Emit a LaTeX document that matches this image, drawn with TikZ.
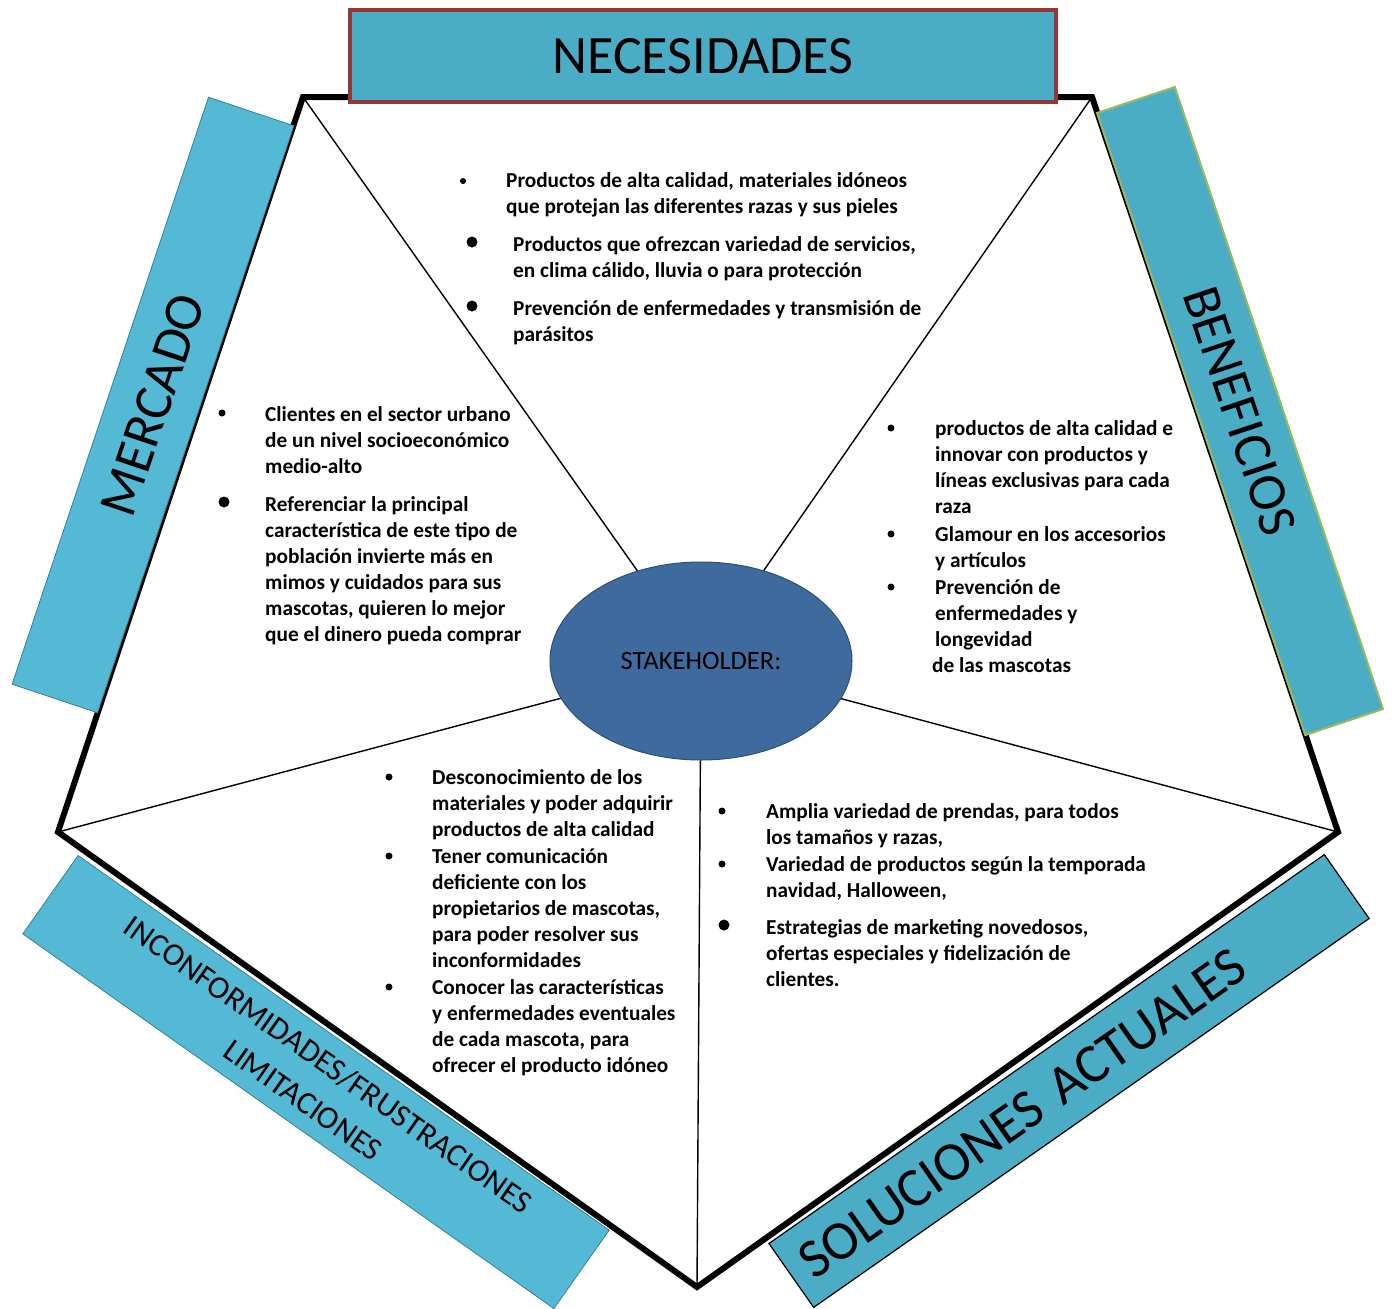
\documentclass[tikz,border=0pt]{standalone}
\usepackage{fontspec}
\setmainfont{Carlito}
\usetikzlibrary{shapes.geometric}
\definecolor{aqua}{HTML}{4BACC6}
\definecolor{aqualt}{HTML}{54B9D4}
\definecolor{stakeblue}{HTML}{3F6A9D}
\definecolor{necred}{HTML}{953735}
\definecolor{benolive}{HTML}{9BBB59}
\newcommand{\bodyfont}{\fontsize{21.3}{26}\selectfont\bfseries}
\newcommand{\lines}[1]{\begin{tabular}[t]{@{}l@{}}#1\end{tabular}}

\begin{document}
\begin{tikzpicture}[x=1pt,y=-1pt,
    banner/.style={draw, rectangle, inner sep=0pt, fill=aqua, font=\fontsize{54}{60}\selectfont},
    item/.style={anchor=base west, inner sep=0pt, font=\bodyfont},
    spoke/.style={line width=1.4pt}]
  \useasboundingbox (0,0) rectangle (1395,1309);
  % pentagon corners
  \coordinate (pTL) at (303,97);
  \coordinate (pTR) at (1092,97);
  \coordinate (pR) at (1338,832);
  \coordinate (pB) at (697,1287);
  \coordinate (pL) at (58,832);
  \draw[line width=6pt, fill=white] (pTL) -- (pTR) -- (pR) -- (pB) -- (pL) -- cycle;
  % centre
  \node[ellipse, fill=stakeblue, draw=stakeblue!75!black, line width=1pt,
        minimum width=302, minimum height=198,
        font=\fontsize{26.5}{30}\selectfont] (stake) at (701,661) {STAKEHOLDER:};
  \foreach \v in {pTL,pTR,pR,pB,pL}
    \draw[spoke] (stake) -- (\v);

  % necesidades
  \node[item] (nec1) at (506,187) {\lines{Productos de alta calidad, materiales idóneos\\que protejan las diferentes razas y sus pieles}};
  \node[item] (nec2) at (513,251) {\lines{Productos que ofrezcan variedad de servicios,\\en clima cálido, lluvia o para protección}};
  \node[item] (nec3) at (513,315) {\lines{Prevención de enfermedades y transmisión de\\parásitos}};
  % mercado
  \node[item] (mer1) at (265,421) {\lines{Clientes en el sector urbano\\de un nivel socioeconómico\\medio-alto}};
  \node[item] (mer2) at (265,511) {\lines{Referenciar la principal\\característica de este tipo de\\población invierte más en\\mimos y cuidados para sus\\mascotas, quieren lo mejor\\que el dinero pueda comprar}};
  % beneficios
  \node[item] (ben1) at (935,435) {\lines{productos de alta calidad e\\innovar con productos y\\líneas exclusivas para cada\\raza}};
  \node[item] (ben2) at (935,541) {\lines{Glamour en los accesorios\\y artículos}};
  \node[item] (ben3) at (935,594) {\lines{Prevención de\\enfermedades y\\longevidad\\\hspace*{-3pt}de las mascotas}};
  % inconformidades
  \node[item] (inc1) at (432,784) {\lines{Desconocimiento de los\\materiales y poder adquirir\\productos de alta calidad}};
  \node[item] (inc2) at (432,863) {\lines{Tener comunicación\\deficiente con los\\propietarios de mascotas,\\para poder resolver sus\\inconformidades}};
  \node[item] (inc3) at (432,994) {\lines{Conocer las características\\y enfermedades eventuales\\de cada mascota, para\\ofrecer el producto idóneo}};
  % soluciones
  \node[item] (sol1) at (766,818) {\lines{Amplia variedad de prendas, para todos\\los tamaños y razas,}};
  \node[item] (sol2) at (766,871) {\lines{Variedad de productos según la temporada\\navidad, Halloween,}};
  \node[item] (sol3) at (766,934) {\lines{Estrategias de marketing novedosos,\\ofertas especiales y fidelización de\\clientes.}};
  % bullets
  \foreach \x/\y/\r in {463/181/3, 472/242/5.5, 472/306/5.5,
                        222/413/3.5, 224/502/5.5,
                        891/428/3.5, 891/534/3.5, 891/587/3.5,
                        389/777/3.5, 389/856/3.5, 389/987/3.5,
                        722/811/3.5, 722/864/3.5, 724/925/5.5}
    \fill (\x,\y) circle (\r);

  % banners
  \node[banner, draw=necred, line width=4pt, minimum width=706, minimum height=92]
    (necb) at (703,56) {NECESIDADES};
  \node[banner, fill=aqualt, draw=aqualt!70!black, line width=0.8pt,
        minimum width=619, minimum height=90, rotate=71.5] (merb) at (153,405) {MERCADO};
  \node[banner, draw=benolive, line width=2pt, minimum width=656, minimum height=82,
        rotate=-71.5] (benb) at (1240,411) {BENEFICIOS};
  \node[banner, fill=aqualt, draw=aqualt!70!black, line width=0.8pt,
        minimum width=650, minimum height=96, rotate=-35.2, align=center,
        font=\fontsize{32}{44}\selectfont] (incb) at (316,1082)
        {INCONFORMIDADES/FRUSTRACIONES\\LIMITACIONES};
  \node[banner, draw=black, line width=1.2pt, minimum width=678, minimum height=78,
        rotate=35, text width=646, inner xsep=16, align=left,
        font=\fontsize{55}{60}\selectfont] (solb) at (1069,1081) {SOLUCIONES ACTUALES};
\end{tikzpicture}
\end{document}
